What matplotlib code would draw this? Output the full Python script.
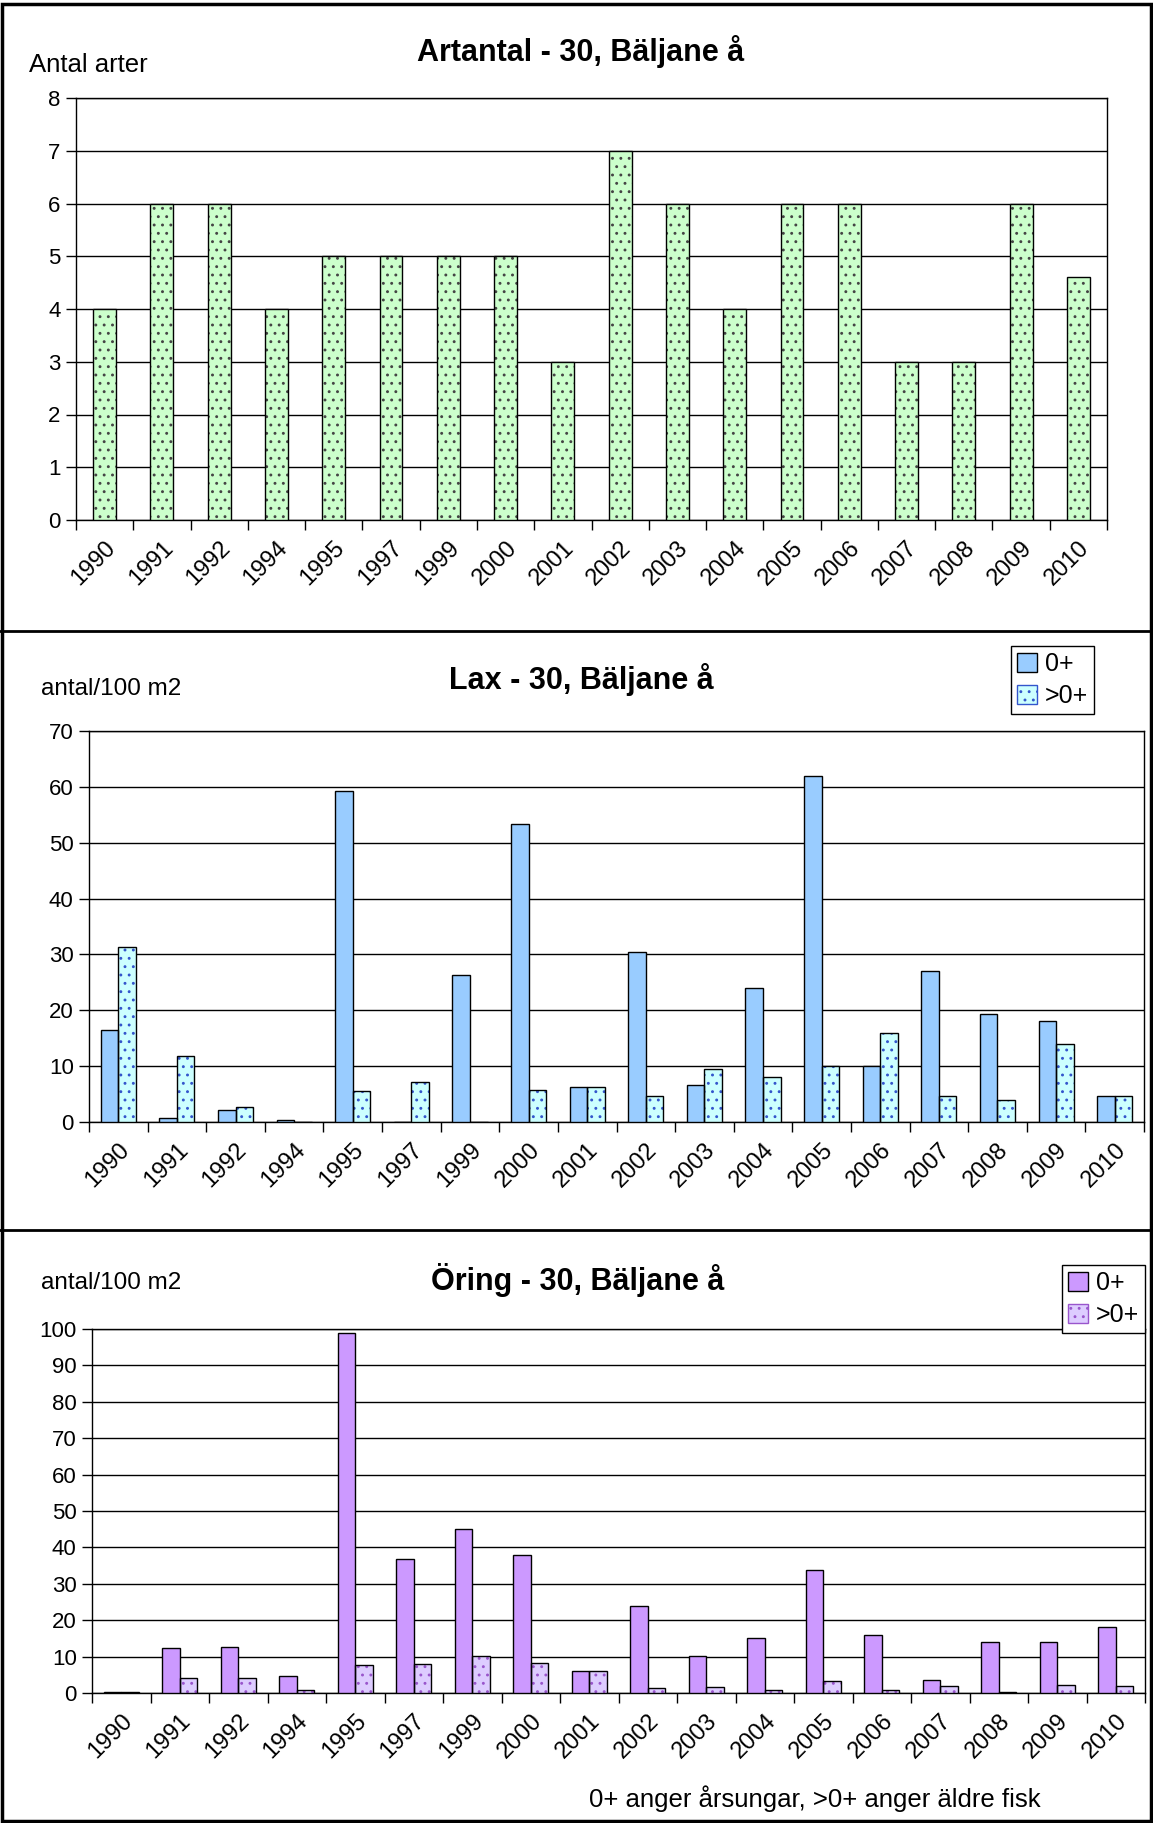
import matplotlib.pyplot as plt
import numpy as np

plt.rcParams['font.family'] = ['Liberation Sans', 'DejaVu Sans']
plt.rcParams['hatch.linewidth'] = 0.9

years = ['1990', '1991', '1992', '1994', '1995', '1997', '1999', '2000', '2001',
         '2002', '2003', '2004', '2005', '2006', '2007', '2008', '2009', '2010']

artantal = [4, 6, 6, 4, 5, 5, 5, 5, 3, 7, 6, 4, 6, 6, 3, 3, 6, 4.6]

lax_0 = [16.5, 0.7, 2.2, 0.3, 59.3, 0, 26.3, 53.4, 6.2, 30.4, 6.6, 24.0, 61.9, 10.0, 27.0, 19.4, 18.0, 4.6]
lax_1 = [31.3, 11.9, 2.6, 0, 5.5, 7.2, 0, 5.7, 6.2, 4.7, 9.4, 8.0, 10.0, 16.0, 4.7, 4.0, 14.0, 4.6]

oring_0 = [0.4, 12.3, 12.6, 4.7, 99.0, 36.7, 45.0, 38.0, 6.0, 23.8, 10.3, 15.0, 33.9, 15.8, 3.6, 14.0, 14.0, 18.0]
oring_1 = [0.2, 4.2, 4.2, 0.8, 7.7, 8.0, 10.3, 8.3, 6.1, 1.3, 1.7, 0.8, 3.4, 0.8, 1.8, 0.3, 2.3, 1.8]

W, H = 1153, 1823
fig = plt.figure(figsize=(W / 100, H / 100), dpi=100)


def px_axes(left, top, right, bottom):
    return fig.add_axes([left / W, 1 - bottom / H, (right - left) / W, (bottom - top) / H])


def hbar(ax, x, vals, width, face, dots):
    # fill + dots, then a black outline on top
    if dots:
        ax.bar(x, vals, width, color=face, edgecolor=dots, hatch='..', linewidth=0, zorder=3)
    else:
        ax.bar(x, vals, width, color=face, linewidth=0, zorder=3)
    ax.bar(x, vals, width, fill=False, edgecolor='black', linewidth=1, zorder=4)


def style(ax, ymax, step):
    n = len(years)
    ax.set_xlim(-0.5, n - 0.5)
    ax.set_ylim(0, ymax)
    ax.set_yticks(np.arange(0, ymax + 0.1, step))
    ax.set_xticks(np.arange(n))
    ax.set_xticklabels(years, rotation=45, ha='right', rotation_mode='anchor')
    ax.set_xticks(np.arange(n + 1) - 0.5, minor=True)
    ax.tick_params(axis='x', which='major', length=0, pad=12, labelsize=17)
    ax.tick_params(axis='x', which='minor', length=7, width=1, direction='out')
    ax.tick_params(axis='y', length=7, width=1, pad=4, labelsize=16)
    ax.grid(axis='y', color='black', linewidth=1, zorder=0)
    ax.set_axisbelow(True)
    for s in ax.spines.values():
        s.set_linewidth(1)
        s.set_color('black')


def legend(handles, left, top):
    fig.legend(handles, ['0+', '>0+'], loc='upper left', bbox_to_anchor=(left / W, 1 - top / H),
               fontsize=18, frameon=True, fancybox=False,
               edgecolor='black', handlelength=0.8, handleheight=0.8, handletextpad=0.3,
               borderpad=0.25, labelspacing=0.3, borderaxespad=0, framealpha=1)


x = np.arange(len(years))
bw = 0.3

# panel 1
ax1 = px_axes(76, 98, 1107, 520)
hbar(ax1, x, artantal, 0.4, '#CCFFCC', '#444444')
style(ax1, 8, 1)
fig.text(581 / W, 1 - 52 / H, 'Artantal - 30, Bäljane å', ha='center', va='center',
         fontsize=22, fontweight='bold')
fig.text(29 / W, 1 - 65 / H, 'Antal arter', ha='left', va='center', fontsize=18.5)

# panel 2
ax2 = px_axes(89, 731, 1144, 1122)
hbar(ax2, x - bw / 2, lax_0, bw, '#99CCFF', None)
hbar(ax2, x + bw / 2, lax_1, bw, '#CCFFFF', '#3355CC')
style(ax2, 70, 10)
fig.text(581 / W, 1 - 680 / H, 'Lax - 30, Bäljane å', ha='center', va='center',
         fontsize=22, fontweight='bold')
fig.text(41 / W, 1 - 689 / H, 'antal/100 m2', ha='left', va='center', fontsize=17.5)
legend([plt.Rectangle((0, 0), 1, 1, facecolor='#99CCFF', edgecolor='black', linewidth=1),
        plt.Rectangle((0, 0), 1, 1, facecolor='#CCFFFF', edgecolor='#3355CC', hatch='..', linewidth=1)],
       1011, 646)

# panel 3
ax3 = px_axes(92, 1329, 1145, 1693)
hbar(ax3, x - bw / 2, oring_0, bw, '#CC99FF', None)
hbar(ax3, x + bw / 2, oring_1, bw, '#DDCCFF', '#9955CC')
style(ax3, 100, 10)
fig.text(578 / W, 1 - 1280 / H, 'Öring - 30, Bäljane å', ha='center', va='center',
         fontsize=22, fontweight='bold')
fig.text(41 / W, 1 - 1283 / H, 'antal/100 m2', ha='left', va='center', fontsize=17.5)
legend([plt.Rectangle((0, 0), 1, 1, facecolor='#CC99FF', edgecolor='black', linewidth=1),
        plt.Rectangle((0, 0), 1, 1, facecolor='#DDCCFF', edgecolor='#9955CC', hatch='..', linewidth=1)],
       1062, 1265)

fig.text(815 / W, 1 - 1799 / H, '0+ anger årsungar, >0+ anger äldre fisk', ha='center',
         va='center', fontsize=18.5)

# frame and dividers
fig.add_artist(plt.Rectangle((2 / W, 0.001), 1 - 4 / W, 1 - 6 / H, transform=fig.transFigure,
                             fill=False, edgecolor='black', linewidth=2.5))
for yy in (631, 1230):
    fig.add_artist(plt.Line2D([0, 1], [1 - yy / H] * 2, transform=fig.transFigure,
                              color='black', linewidth=2))

fig.savefig('out.png', dpi=100)
